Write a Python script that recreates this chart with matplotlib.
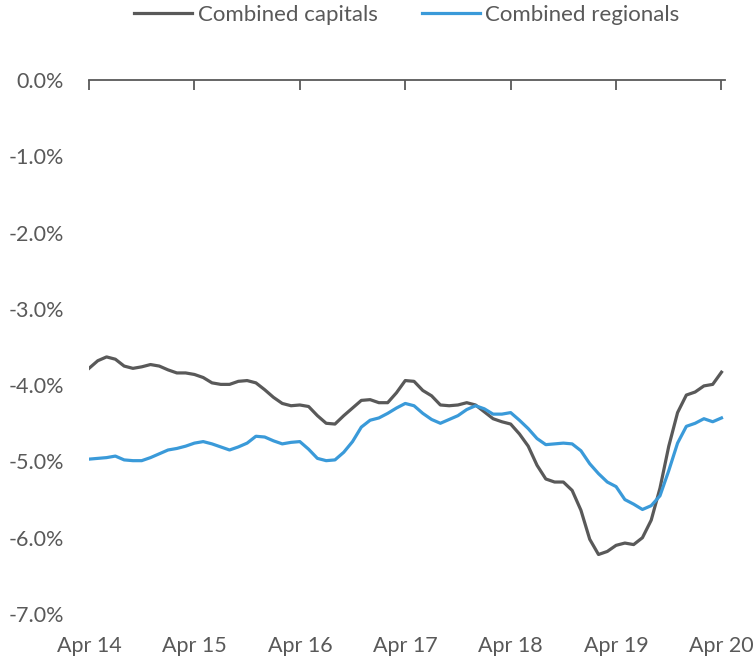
import matplotlib
matplotlib.use("Agg")
import matplotlib.pyplot as plt
import numpy as np

# monthly values, Apr 14 .. Apr 20 (73 months), % change
capitals = [
    -3.78, -3.68, -3.63, -3.66, -3.75, -3.78, -3.76, -3.73, -3.75, -3.80,
    -3.84, -3.84, -3.86, -3.90, -3.97, -3.99, -3.99, -3.95, -3.94, -3.97,
    -4.06, -4.16, -4.24, -4.27, -4.26, -4.28, -4.40, -4.50, -4.51, -4.40,
    -4.30, -4.20, -4.19, -4.23, -4.23, -4.10, -3.94, -3.95, -4.07, -4.14,
    -4.26, -4.27, -4.26, -4.23, -4.26, -4.35, -4.44, -4.48, -4.51, -4.64,
    -4.80, -5.05, -5.23, -5.27, -5.27, -5.38, -5.64, -6.02, -6.22, -6.18,
    -6.10, -6.07, -6.09, -6.00, -5.77, -5.35, -4.80, -4.36, -4.13, -4.09,
    -4.01, -3.99, -3.83,
]
regionals = [
    -4.97, -4.96, -4.95, -4.93, -4.98, -4.99, -4.99, -4.95, -4.90, -4.85,
    -4.83, -4.80, -4.76, -4.74, -4.77, -4.81, -4.85, -4.81, -4.76, -4.67,
    -4.68, -4.73, -4.77, -4.75, -4.74, -4.84, -4.96, -4.99, -4.98, -4.88,
    -4.74, -4.55, -4.46, -4.43, -4.37, -4.30, -4.24, -4.27, -4.37, -4.45,
    -4.50, -4.45, -4.40, -4.32, -4.27, -4.31, -4.38, -4.38, -4.36, -4.46,
    -4.57, -4.70, -4.78, -4.77, -4.76, -4.77, -4.86, -5.03, -5.16, -5.27,
    -5.33, -5.50, -5.56, -5.63, -5.58, -5.45, -5.12, -4.76, -4.54, -4.50,
    -4.44, -4.48, -4.43,
]
tick_labels = ["Apr 14", "Apr 15", "Apr 16", "Apr 17", "Apr 18", "Apr 19", "Apr 20"]
y_ticks = [0, -1, -2, -3, -4, -5, -6, -7]

grey = "#595959"
blue = "#3A9AD9"
plt.rcParams["font.family"] = ["Lato", "DejaVu Sans"]

months = np.arange(len(capitals))

fig = plt.figure(figsize=(7.55, 6.56), dpi=100)
ax = fig.add_axes([89 / 755, 42 / 656, 636 / 755, 534 / 656])

ax.plot(months, capitals, color=grey, lw=2.3, label="Combined capitals")
ax.plot(months, regionals, color=blue, lw=2.3, label="Combined regionals")

ax.set_xlim(0, 72.4)
ax.set_ylim(-7, 0)
ax.set_xticks(np.arange(0, 73, 12))
ax.set_xticklabels(tick_labels)
ax.set_yticks(y_ticks)
ax.set_yticklabels([f"{v:.1f}%" for v in y_ticks])

for side in ["left", "right", "bottom"]:
    ax.spines[side].set_visible(False)
ax.spines["top"].set_color(grey)
ax.spines["top"].set_linewidth(1.3)

ax.tick_params(axis="x", top=True, bottom=False, direction="in", length=7,
               width=1.3, color=grey, labeltop=False, labelbottom=True,
               pad=16, labelsize=15.5, labelcolor=grey)
ax.tick_params(axis="y", left=False, pad=14.5, labelsize=15.5, labelcolor=grey)

ax.legend(loc="center", bbox_to_anchor=(0.5, (656 - 15 - 42) / 534), ncol=2,
          frameon=False, fontsize=16, handlelength=2.6, handletextpad=0.25,
          columnspacing=2.0, labelcolor=grey)

fig.savefig("out.png", dpi=100)
